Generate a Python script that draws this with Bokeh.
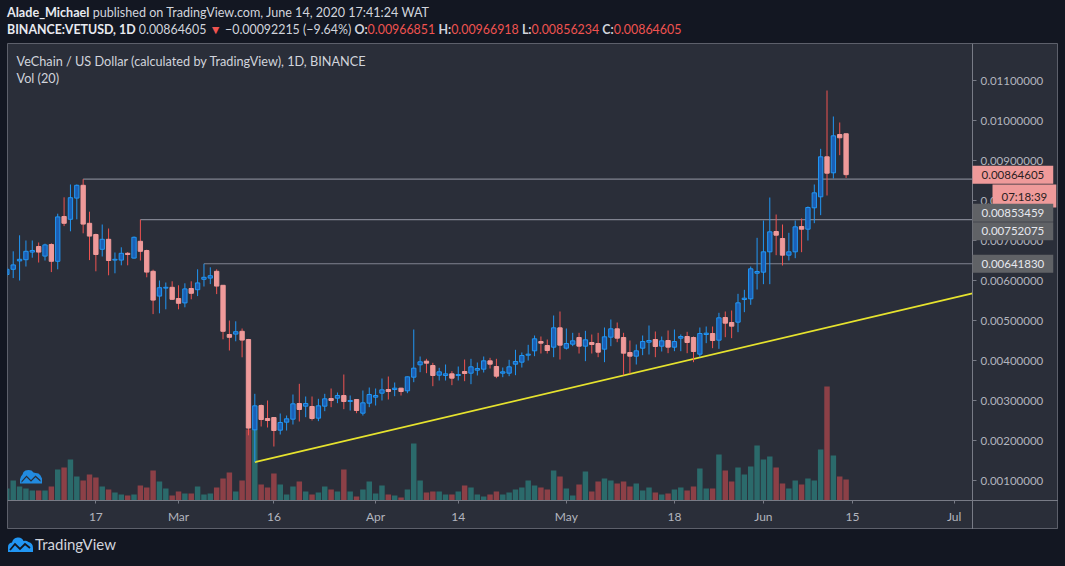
import pandas as pd
from bokeh.plotting import figure
from bokeh.models import (Range1d, LinearAxis, FixedTicker, PrintfTickFormatter, Label,
                          Div, PolyAnnotation, ColumnDataSource)
from bokeh.layouts import column
from bokeh.embed import file_html
from bokeh.resources import INLINE

# ---------------- data ----------------
start_date = "2020-02-03"
end_date = "2020-06-14"

opens = [0.00615, 0.00628, 0.00649, 0.00652, 0.00671, 0.00685, 0.00661, 0.00690, 0.00648, 0.00760,
         0.00753, 0.00806, 0.00838, 0.00743, 0.00715, 0.00678, 0.00703, 0.00651, 0.00651, 0.00668,
         0.00656, 0.00698, 0.00675, 0.00623, 0.00561, 0.00581, 0.00583, 0.00555, 0.00544, 0.00580,
         0.00577, 0.00603, 0.00606, 0.00623, 0.00588, 0.00465, 0.00466, 0.00473, 0.004525, 0.002267,
         0.002875, 0.00255, 0.002575, 0.002258, 0.002458, 0.002533, 0.002925, 0.002858, 0.00285, 0.002558,
         0.002858, 0.00305, 0.003058, 0.003125, 0.002975, 0.003025, 0.002683, 0.002933, 0.003083, 0.003183,
         0.003275, 0.003275, 0.003308, 0.003242, 0.003583, 0.003892, 0.003983, 0.003875, 0.003633, 0.003625,
         0.003667, 0.003625, 0.003725, 0.003683, 0.003758, 0.003783, 0.003992, 0.00385, 0.003683, 0.003683,
         0.003908, 0.003958, 0.004133, 0.004242, 0.004475, 0.004375, 0.004333, 0.004817, 0.004308, 0.004408,
         0.004575, 0.004358, 0.00445, 0.004425, 0.004283, 0.004583, 0.004792, 0.004575, 0.0042, 0.004108,
         0.004308, 0.004458, 0.004525, 0.004358, 0.0045, 0.004333, 0.004558, 0.0046, 0.004575, 0.004158,
         0.00465, 0.004675, 0.004508, 0.005075, 0.00495, 0.004958, 0.005525, 0.005542, 0.006183, 0.006208,
         0.006717, 0.007225, 0.00705, 0.006633, 0.006717, 0.00735, 0.007283, 0.007817, 0.008092, 0.009092,
         0.008692, 0.00965, 0.00966851]
highs = [0.00633, 0.00673, 0.00713, 0.00700, 0.00700, 0.00695, 0.00692, 0.00693, 0.00767, 0.00808,
         0.00840, 0.00840, 0.00853459, 0.00772, 0.00717, 0.00740, 0.00730, 0.00670, 0.00683, 0.00671,
         0.00710, 0.00752075, 0.00677, 0.00627, 0.00600, 0.00595, 0.00598, 0.00588, 0.00593, 0.00598,
         0.00628, 0.00641830, 0.00633, 0.00628, 0.00588, 0.00500, 0.00498, 0.00480, 0.00454, 0.003167,
         0.0029, 0.003, 0.002575, 0.002675, 0.002625, 0.00315, 0.003417, 0.0031, 0.0031, 0.003042,
         0.003167, 0.0033, 0.0032, 0.00365, 0.003125, 0.003025, 0.00325, 0.003325, 0.0033, 0.00355,
         0.0036, 0.00345, 0.003317, 0.0036, 0.004775, 0.0041, 0.004042, 0.003942, 0.003817, 0.0039,
         0.003733, 0.00385, 0.004025, 0.004042, 0.00395, 0.0041, 0.004067, 0.004042, 0.003825, 0.004017,
         0.004267, 0.0042, 0.004392, 0.004625, 0.0046, 0.004525, 0.005125, 0.005225, 0.0048, 0.004692,
         0.004692, 0.004742, 0.00465, 0.004692, 0.004825, 0.005025, 0.00495, 0.004692, 0.0045, 0.0044,
         0.004625, 0.004875, 0.004725, 0.0046, 0.00475, 0.004775, 0.00465, 0.004717, 0.0046, 0.004825,
         0.00485, 0.00485, 0.005192, 0.005225, 0.00525, 0.005667, 0.005767, 0.00635, 0.007067, 0.0075,
         0.008075, 0.00765, 0.0074, 0.007192, 0.0075, 0.00755, 0.00785, 0.0084, 0.009292, 0.01075,
         0.0101, 0.00995, 0.00966918]
lows = [0.00610, 0.00606, 0.00600, 0.00635, 0.00657, 0.00645, 0.00650, 0.00621, 0.00628, 0.00736,
        0.00723, 0.00753, 0.00718, 0.00651, 0.00623, 0.00660, 0.00613, 0.00618, 0.00638, 0.00638,
        0.00655, 0.00650, 0.00608, 0.00516, 0.00518, 0.00528, 0.00552, 0.00528, 0.00533, 0.00553,
        0.00561, 0.00585, 0.00591, 0.00566, 0.00453, 0.00425, 0.00448, 0.00408, 0.00213, 0.00146,
        0.00235, 0.002325, 0.00185, 0.00215, 0.00225, 0.0024, 0.002475, 0.002583, 0.0025, 0.002483,
        0.002733, 0.002833, 0.002933, 0.002783, 0.00275, 0.002683, 0.002625, 0.002833, 0.002875, 0.003,
        0.003025, 0.003108, 0.003125, 0.003183, 0.003458, 0.003708, 0.003683, 0.003358, 0.0035, 0.0035,
        0.003383, 0.0035, 0.003483, 0.003408, 0.003625, 0.0037, 0.0038, 0.003558, 0.003583, 0.003608,
        0.003633, 0.003825, 0.004, 0.004108, 0.004175, 0.004175, 0.004083, 0.004025, 0.004275, 0.004358,
        0.004175, 0.003983, 0.004175, 0.004083, 0.003958, 0.004358, 0.004458, 0.003633, 0.003667, 0.0039,
        0.004133, 0.00415, 0.004083, 0.004225, 0.004183, 0.004233, 0.004233, 0.004183, 0.003958, 0.004083,
        0.004433, 0.004308, 0.004292, 0.004583, 0.004558, 0.004708, 0.005208, 0.005392, 0.005775, 0.005908,
        0.005908, 0.006633, 0.006375, 0.0065, 0.006558, 0.006708, 0.007, 0.007433, 0.007633, 0.008125,
        0.00855, 0.009133, 0.00856234]
closes = [0.00628, 0.00639, 0.00653, 0.00673, 0.00675, 0.00671, 0.00689, 0.00648, 0.00759, 0.00743,
          0.00807, 0.00838, 0.00741, 0.00711, 0.00665, 0.00703, 0.00650, 0.00653, 0.00668, 0.00665,
          0.00708, 0.00673, 0.00621, 0.00551, 0.00582, 0.00583, 0.00553, 0.00543, 0.00579, 0.00568,
          0.00594, 0.00608, 0.00612, 0.00586, 0.00473, 0.00458, 0.00472, 0.00451, 0.00231, 0.002867,
          0.002525, 0.0025, 0.00225, 0.00245, 0.002542, 0.002917, 0.002775, 0.002925, 0.00255, 0.002867,
          0.003042, 0.003, 0.003125, 0.002975, 0.003, 0.00275, 0.002942, 0.00315, 0.003125, 0.003267,
          0.003225, 0.003308, 0.003225, 0.003592, 0.003808, 0.003967, 0.003933, 0.003625, 0.003717, 0.003667,
          0.003558, 0.00365, 0.003675, 0.003842, 0.0038, 0.003992, 0.003908, 0.003608, 0.003717, 0.003842,
          0.003975, 0.004125, 0.004158, 0.004542, 0.004433, 0.00425, 0.004817, 0.004383, 0.004425, 0.004492,
          0.004358, 0.004517, 0.0044, 0.004208, 0.004592, 0.004792, 0.004558, 0.004183, 0.004108, 0.004242,
          0.004475, 0.0045, 0.00435, 0.004492, 0.004333, 0.004475, 0.0046, 0.00445, 0.004225, 0.004675,
          0.004683, 0.0045, 0.005067, 0.004933, 0.004858, 0.005442, 0.005558, 0.006292, 0.006225, 0.006717,
          0.007217, 0.007133, 0.006633, 0.006717, 0.007342, 0.007283, 0.007825, 0.008192, 0.009092, 0.008683,
          0.009617, 0.009568, 0.00864605]
# relative volume (bar heights)
volumes = [12, 20, 14, 12, 10, 10, 10, 14, 31, 33, 41, 24, 20, 26, 23, 14, 11, 8, 6, 5,
           6, 15, 13, 30, 19, 12, 5, 9, 7, 7, 14, 6, 7, 13, 22, 28, 9, 20, 71, 71,
           16, 13, 27, 16, 6, 14, 19, 9, 6, 8, 14, 11, 9, 31, 9, 4, 11, 19, 7, 15,
           6, 5, 3, 11, 57, 20, 8, 9, 9, 6, 6, 9, 15, 13, 6, 4, 6, 9, 6, 8,
           11, 13, 20, 15, 13, 11, 30, 24, 12, 5, 16, 29, 9, 19, 22, 20, 17, 19, 14, 17,
           10, 13, 8, 6, 7, 11, 13, 10, 14, 32, 12, 12, 46, 30, 19, 33, 26, 34, 55, 41,
           44, 33, 17, 12, 20, 16, 22, 20, 51, 114, 45, 24, 21]

level_dates = ["2020-02-15", "2020-02-24", "2020-03-05"]
level_prices = [0.00853459, 0.00752075, 0.00641830]
trend_dates = ["2020-03-13", "2020-07-05"]
trend_prices = [0.00146, 0.00572]
tick_dates = ["2020-02-17", "2020-03-01", "2020-03-16", "2020-04-01", "2020-04-14",
              "2020-05-01", "2020-05-18", "2020-06-01", "2020-06-15", "2020-07-01"]
tick_labels = ["17", "Mar", "16", "Apr", "14", "May", "18", "Jun", "15", "Jul"]
price_ticks = [0.001, 0.002, 0.003, 0.004, 0.005, 0.006, 0.007, 0.008, 0.009, 0.010, 0.011]
last_price = 0.00864605
countdown = "07:18:39"

# ---------------- preparation ----------------
ref = pd.Timestamp("2020-02-17")
def dnum(s):
    return (pd.Timestamp(s) - ref).days

dates = pd.date_range(start_date, end_date, freq="D")
xs = [(d - ref).days for d in dates]
n = len(xs)
assert len(opens) == n and len(highs) == n and len(lows) == n and len(closes) == n and len(volumes) == n

up = [c >= o for o, c in zip(opens, closes)]
src = ColumnDataSource(dict(
    x=xs, high=highs, low=lows,
    top=[max(o, c) for o, c in zip(opens, closes)],
    bottom=[min(o, c) for o, c in zip(opens, closes)],
    wick=["#2196f3" if u else "#ef5350" for u in up],
    fill=["#1b5fb5" if u else "#ef9a9a" for u in up],
    line=["#2196f3" if u else "#ef9a9a" for u in up],
    vol=volumes,
    vcol=["#2b6a6b" if u else "#8c4047" for u in up],
))

# panel geometry (pixels): whole panel = chart + price strip + time strip
PANEL_W, PANEL_H = 1051, 486
AXIS_PX = 965          # price-scale line, from the panel's left edge
TIME_PX = 29           # height of the time strip at the bottom
PX_PER_UNIT = 40000.0  # price pixels per 1.0 of price
X0, X1 = -13.9, 151.41 # visible day range (days from 17 Feb)
AXIS_X = X0 + (X1 - X0) * AXIS_PX / PANEL_W
Y_TOP = 0.011925
Y_BOT = Y_TOP - PANEL_H / PX_PER_UNIT
Y_TIME = Y_BOT + TIME_PX / PX_PER_UNIT   # price value at the time-axis line
BG = "#2a2e39"
FONT = "Lato"

def sy(page_y):
    """screen y (from panel bottom) for a page row (panel top is page row 43)"""
    return 43 + PANEL_H - page_y

p = figure(width=PANEL_W, height=PANEL_H,
           x_range=Range1d(X0, X1), y_range=Range1d(Y_BOT, Y_TOP),
           output_backend="svg", toolbar_location=None,
           x_axis_location=None, y_axis_location=None,
           min_border=0,
           background_fill_color=BG, border_fill_color=BG,
           outline_line_color="#5d606b")
p.grid.visible = False

p.extra_y_ranges = {"vol": Range1d(-TIME_PX, PANEL_H - TIME_PX)}

xaxis = LinearAxis(ticker=FixedTicker(ticks=[dnum(t) for t in tick_dates]),
                   major_label_overrides={dnum(t): l for t, l in zip(tick_dates, tick_labels)},
                   fixed_location=Y_TIME)
xaxis.axis_line_color = "#787b86"
xaxis.major_tick_line_color = "#787b86"
xaxis.major_tick_in = 0
xaxis.major_tick_out = 3
xaxis.minor_tick_line_color = None
xaxis.major_label_standoff = 5
xaxis.major_label_text_color = "#b2b5be"
xaxis.major_label_text_font = FONT
xaxis.major_label_text_font_size = "12px"
p.add_layout(xaxis, "below")

yaxis = LinearAxis(ticker=FixedTicker(ticks=price_ticks), formatter=PrintfTickFormatter(format="%.8f"),
                   fixed_location=AXIS_X)
yaxis.axis_line_color = "#787b86"
yaxis.major_tick_line_color = "#787b86"
yaxis.major_tick_in = 0
yaxis.major_tick_out = 4
yaxis.minor_tick_line_color = None
yaxis.major_label_standoff = 4
yaxis.major_label_text_color = "#b2b5be"
yaxis.major_label_text_font = FONT
yaxis.major_label_text_font_size = "11.5px"
p.add_layout(yaxis, "right")

# volume
p.vbar(x="x", top="vol", bottom=0, width=0.86, fill_color="vcol", line_color=None,
       y_range_name="vol", source=src)

# level lines (from the pivot high to the price scale) and trend line
p.segment(x0=[dnum(d) for d in level_dates], y0=level_prices,
          x1=[AXIS_X] * len(level_dates), y1=level_prices,
          line_color="#808390", line_width=1.2)
tx = [dnum(d) for d in trend_dates]
t_end = trend_prices[0] + (trend_prices[1] - trend_prices[0]) * (AXIS_X - tx[0]) / (tx[1] - tx[0])
p.line(x=[tx[0], AXIS_X], y=[trend_prices[0], t_end], line_color="#e6e32e", line_width=1.6)

# candles
p.segment(x0="x", y0="low", x1="x", y1="high", line_color="wick", line_width=1, source=src)
p.vbar(x="x", top="top", bottom="bottom", width=0.68, fill_color="fill", line_color="line",
       line_width=1, source=src)

# legend texts
p.add_layout(Label(x=9, y=sy(60.5), x_units="screen", y_units="screen",
                   text="VeChain / US Dollar (calculated by TradingView), 1D, BINANCE",
                   text_font=FONT, text_font_size="12.7px", text_color="#d1d4dc",
                   text_baseline="middle"))
p.add_layout(Label(x=9, y=sy(77.5), x_units="screen", y_units="screen",
                   text="Vol (20)", text_font=FONT, text_font_size="12.7px",
                   text_color="#d1d4dc", text_baseline="middle"))

# watermark logo (cloud + zigzag)
cloud_x = [19.5, 19.5, 20.5, 22, 23, 25, 28, 31, 33, 35, 38, 40, 41.5, 41.5]
cloud_y = [483, 479, 476, 474, 471.5, 470, 469.5, 470, 472, 472.5, 473, 475, 478, 483]
p.add_layout(PolyAnnotation(xs=[v - 7 for v in cloud_x], ys=[sy(v) for v in cloud_y],
                            xs_units="screen", ys_units="screen",
                            fill_color="#2196f3", fill_alpha=0.9, line_color=None))
zig_x = [21, 26, 30.5, 35, 40, 40, 35, 30.5, 26, 21]
zig_y = [480.5, 475, 479.5, 475, 479.5, 481.3, 476.8, 481.3, 476.8, 482.3]
p.add_layout(PolyAnnotation(xs=[v - 7 for v in zig_x], ys=[sy(v) for v in zig_y],
                            xs_units="screen", ys_units="screen",
                            fill_color=BG, fill_alpha=1.0, line_color=None))

# price labels on the price scale
def axis_label(text, x, y, y_units, fill, color):
    p.add_layout(Label(x=x, y=y, x_units="screen", y_units=y_units, text=text,
                       text_font=FONT, text_font_size="11.5px", text_color=color,
                       text_baseline="middle", text_align="left",
                       background_fill_color=fill, background_fill_alpha=1.0,
                       padding=dict(left=9, right=9, top=5, bottom=5)))

axis_label("%.8f" % last_price, AXIS_PX, last_price, "data", "#ef9a9a", "#2b1e22")
axis_label(countdown, AXIS_PX + 20, sy(195.5), "screen", "#ef9a9a", "#2b1e22")
axis_label("%.8f" % level_prices[0], AXIS_PX, sy(212.3), "screen", "#606266", "#e6e8ee")
axis_label("%.8f" % level_prices[1], AXIS_PX, sy(230.8), "screen", "#606266", "#e6e8ee")
axis_label("%.8f" % level_prices[2], AXIS_PX, level_prices[2], "data", "#606266", "#e6e8ee")

# ---------------- header / footer ----------------
RED = "#ef5350"
header_html = (
    '<div style="padding-top:4px; font-family:Lato; font-size:12.6px; '
    'line-height:17px; color:#d1d4dc; white-space:nowrap;">'
    '<b style="color:#e8eaf0">Alade_Michael</b> published on TradingView.com, June 14, 2020 17:41:24 WAT<br>'
    '<span style="font-size:12.4px"><b style="color:#e8eaf0">BINANCE:VETUSD, 1D</b> 0.00864605 '
    f'<span style="color:{RED}">▼</span> −0.00092215 (−9.64%) '
    f'<b>O:</b><span style="color:{RED}">0.00966851</span> '
    f'<b>H:</b><span style="color:{RED}">0.00966918</span> '
    f'<b>L:</b><span style="color:{RED}">0.00856234</span> '
    f'<b>C:</b><span style="color:{RED}">0.00864605</span></span>'
    '</div>'
)
header = Div(text=header_html, width=PANEL_W, height=43, margin=(0, 0, 0, 0))

footer_html = (
    '<div style="display:flex; align-items:center; padding-top:11px; height:20px; '
    'font-family:Lato; font-size:15px; color:#d1d4dc;">'
    '<svg width="27" height="17" viewBox="0 0 27 17">'
    '<path d="M1 16 L1 11 Q1 7 5 6.5 Q6 2 10.5 1.5 Q15 1 16.5 5 Q19 4 21.5 6 Q26 7 26 12 L26 16 Z" fill="#2196f3"/>'
    '<polyline points="3,14 8,8 13,13 18,8 23,12" fill="none" stroke="#131722" stroke-width="1.8"/>'
    '</svg><span style="margin-left:1px">TradingView</span></div>'
)
footer = Div(text=footer_html, width=PANEL_W, height=31, margin=(0, 0, 0, 0))

layout = column(header, p, footer, spacing=0, margin=(0, 0, 0, 7))

TEMPLATE = """
{% block postamble %}
<style>html, body { background-color: #131722; }</style>
{% endblock %}
"""
open("out.html", "w").write(file_html(layout, INLINE, title="VETUSD", template=TEMPLATE))
